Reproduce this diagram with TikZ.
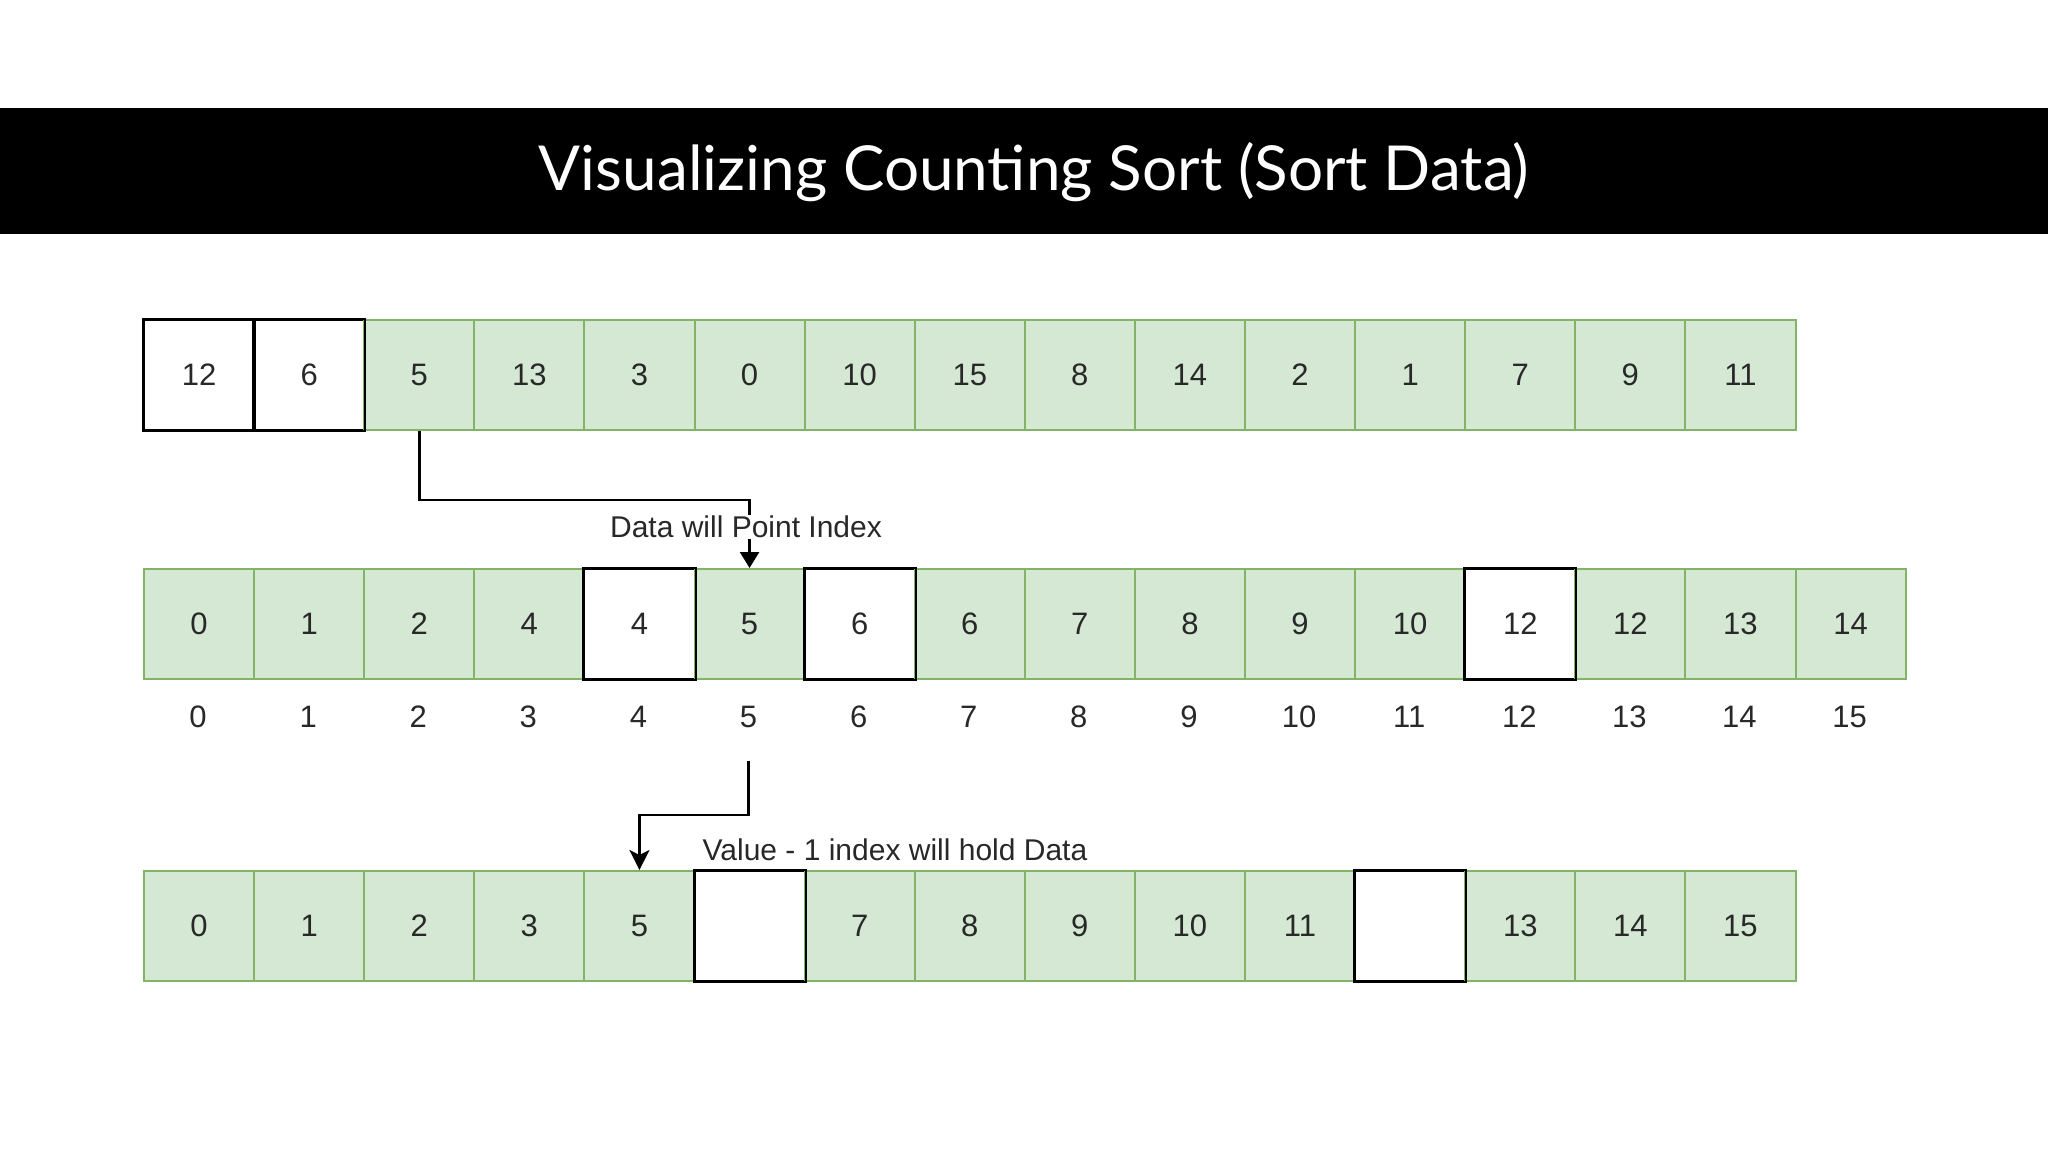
\documentclass[tikz,border=0pt]{standalone}
\usepackage{fontspec}
\setmainfont{Liberation Sans}
\newfontfamily\titlefont{Lato}
\usetikzlibrary{arrows.meta}
\definecolor{gfill}{RGB}{213,232,212}
\definecolor{gline}{RGB}{130,179,102}
\definecolor{txt}{RGB}{40,40,40}
\tikzset{
  cellg/.style={draw=gline, fill=gfill, line width=2pt, minimum width=110.1pt,
    minimum height=110pt, inner sep=0pt, anchor=north west,
    font=\fontsize{31}{31}\selectfont, text=txt},
  cellw/.style={cellg, draw=black, fill=white, line width=2pt},
  whiteedge/.style={draw=black, line width=2pt},
  idx/.style={font=\fontsize{31}{31}\selectfont, text=txt, inner sep=2pt},
  lbl/.style={font=\fontsize{30}{30}\selectfont, text=txt, inner sep=1pt},
  conn/.style={draw=black, line width=2.5pt},
}
\begin{document}
\begin{tikzpicture}[x=1pt,y=-1pt]
\useasboundingbox (0,0) rectangle (2048,1152);
\fill[white] (0,0) rectangle (2048,1152);
% title band
\fill[black] (0,108) rectangle (2048,234);
\node[text=white, font=\titlefont\fontsize{62}{62}\selectfont] (title) at (1034,172) {Visualizing Counting Sort (Sort Data)};

% row 1
\foreach \v/\s [count=\i from 0] in {12/w,6/w,5/g,13/g,3/g,0/g,10/g,15/g,8/g,14/g,2/g,1/g,7/g,9/g,11/g}
  \node[cell\s] (r1-\i) at ({143+\i*110.1},319) {\raisebox{1pt}{\v}};
\foreach \i in {0,1}
  \draw[whiteedge] (r1-\i.north west) rectangle (r1-\i.south east);

% row 2
\foreach \v/\s [count=\i from 0] in {0/g,1/g,2/g,4/g,4/w,5/g,6/w,6/g,7/g,8/g,9/g,10/g,12/w,12/g,13/g,14/g}
  \node[cell\s] (r2-\i) at ({143+\i*110.1},568) {\raisebox{1pt}{\v}};
\foreach \i in {4,6,12}
  \draw[whiteedge] (r2-\i.north west) rectangle (r2-\i.south east);

% indices
\foreach \i in {0,...,15}
  \node[idx] (ix-\i) at ({143+(\i+0.5)*110.1},717) {\i};

% row 3
\foreach \v/\s [count=\i from 0] in {0/g,1/g,2/g,3/g,5/g,{}/w,7/g,8/g,9/g,10/g,11/g,{}/w,13/g,14/g,15/g}
  \node[cell\s] (r3-\i) at ({143+\i*110.1},870) {\raisebox{1pt}{\v}};
\foreach \i in {5,11}
  \draw[whiteedge] (r3-\i.north west) rectangle (r3-\i.south east);

% connector 1
\draw[conn, -{Triangle[width=19pt,length=16pt]}] (r1-2.south) -- ++(0,69) -| (r2-5.north);
\node[lbl, fill=white] (lab1) at (746,527) {Data will Point Index};

% connector 2
\coordinate (s2) at ({143+5.5*110.1},761);
\draw[conn, -{Stealth[width=20pt,length=20pt,inset=5pt]}] (s2) -- ++(0,54) -| (r3-4.north);
\node[lbl] (lab2) at (895,850) {Value - 1 index will hold Data};
\end{tikzpicture}
\end{document}
